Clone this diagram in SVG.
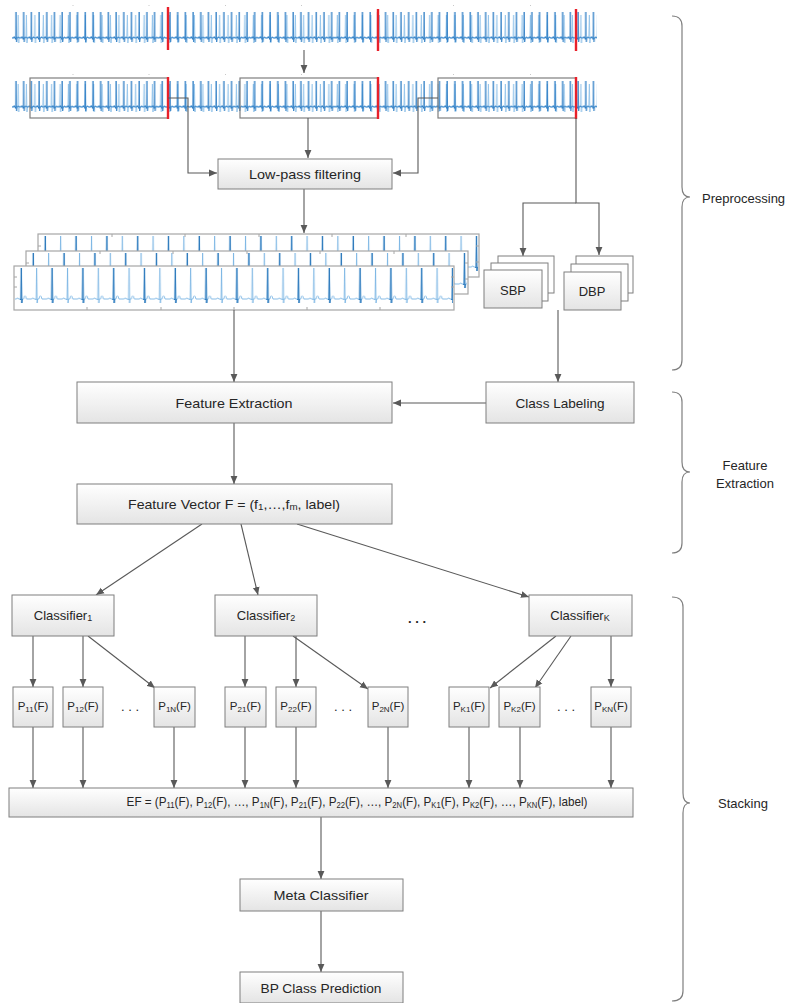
<svg xmlns="http://www.w3.org/2000/svg" width="794" height="1003" viewBox="0 0 794 1003">
<style>
  .box{fill:url(#bg);stroke:#7f7f7f;stroke-width:1}
  .plain{fill:#fff;stroke:#7f7f7f;stroke-width:1}
  .lbl{font-family:"Liberation Sans",Arial,sans-serif;font-size:13px;fill:#262626;text-anchor:middle;dominant-baseline:central}
  .plbl{font-family:"Liberation Sans",Arial,sans-serif;font-size:11.5px;fill:#262626;text-anchor:middle;dominant-baseline:central}
  .side{font-family:"Liberation Sans",Arial,sans-serif;font-size:13px;fill:#262626;dominant-baseline:central}
  .con{fill:none;stroke:#595959;stroke-width:1.1}
  .arr{fill:none;stroke:#595959;stroke-width:1.1;marker-end:url(#ah)}
  .brace{fill:none;stroke:#7f7f7f;stroke-width:1.2}
  .red{stroke:#e8202a;stroke-width:2.4}
  .win{fill:none;stroke:#7f7f7f;stroke-width:1.2}
  .panel{fill:#fff;stroke:#a6a6a6;stroke-width:1.2}
  .tick{stroke:#a6a6a6;stroke-width:1}
</style>
<defs>
  <linearGradient id="bg" x1="0" y1="0" x2="0" y2="1">
    <stop offset="0" stop-color="#ffffff"/>
    <stop offset="1" stop-color="#e4e4e4"/>
  </linearGradient>
  <marker id="ah" markerUnits="userSpaceOnUse" markerWidth="9" markerHeight="8" refX="8" refY="4" orient="auto">
    <path d="M0,0.6 L8,4 L0,7.4 z" fill="#595959"/>
  </marker>
  <pattern id="rawA" patternUnits="userSpaceOnUse" x="12" y="0" width="7.7" height="69">
    <path d="M0,38 H1.6 L2.1,36.5 L2.6,38 H3.2 L3.6,39.5 L4.0,12 L4.5,42 L5.0,38 H5.6 Q6.3,35.5 7,38 H7.7" fill="none" stroke="#1f74c0" stroke-width="0.8"/>
  </pattern>
  <pattern id="rawB" patternUnits="userSpaceOnUse" x="14" y="0" width="8.4" height="69">
    <path d="M0,38 H2 L2.5,36.8 L3,38 H3.6 L4.1,15 L4.6,43 L5.1,38 Q6,35.8 7,38 H8.4" fill="none" stroke="#8cc0e8" stroke-width="0.9"/>
  </pattern>
  <pattern id="filtA" patternUnits="userSpaceOnUse" x="0" y="0" width="15.4" height="44">
    <path d="M0,33 H2.5 Q3.5,30.5 4.5,33 H6.3 L6.8,34 L7.3,2 L7.8,37 L8.3,33 H9.5 Q11,26.5 12.5,33 H15.4" fill="none" stroke="#6badE0" stroke-width="0.8"/>
  </pattern>
  <pattern id="filtB" patternUnits="userSpaceOnUse" x="0" y="0" width="30.8" height="44">
    <path d="M6.3,33 L6.8,34 L7.3,2 L7.8,37 L8.3,33" fill="none" stroke="#1f6fb5" stroke-width="0.8"/>
  </pattern>
</defs>

<!-- raw signals -->
<g id="signal-raw">
  <g fill="#c8c8c8">
    <rect x="72.5" y="5" width="1" height="1"/><rect x="148.5" y="5" width="1" height="1"/><rect x="225" y="5" width="1" height="1"/><rect x="301" y="5" width="1" height="1"/><rect x="453" y="5" width="1" height="1"/><rect x="530" y="5" width="1" height="1"/>
    <rect x="72.5" y="74" width="1" height="1"/><rect x="148.5" y="74" width="1" height="1"/><rect x="225" y="74" width="1" height="1"/><rect x="301" y="74" width="1" height="1"/><rect x="453" y="74" width="1" height="1"/><rect x="530" y="74" width="1" height="1"/>
  </g>
  <rect x="12" y="6" width="585" height="46" fill="url(#rawB)"/>
  <rect x="12" y="6" width="585" height="46" fill="url(#rawA)"/>
  <rect x="12" y="75" width="585" height="46" fill="url(#rawB)"/>
  <rect x="12" y="75" width="585" height="46" fill="url(#rawA)"/>
  <line class="red" x1="168" y1="7" x2="168" y2="50"/>
  <line class="red" x1="378" y1="9" x2="378" y2="51"/>
  <line class="red" x1="576" y1="9" x2="576" y2="51"/>
  <rect class="win" x="30" y="78" width="138" height="40"/>
  <rect class="win" x="240" y="78" width="138" height="40"/>
  <rect class="win" x="438" y="78" width="138" height="40"/>
  <line class="red" x1="168" y1="77" x2="168" y2="119"/>
  <line class="red" x1="378" y1="77" x2="378" y2="119"/>
  <line class="red" x1="576" y1="77" x2="576" y2="119"/>
</g>

<!-- filtered signal panels -->
<g id="signal-filtered">
  <g transform="translate(38,234)">
    <rect class="panel" x="0" y="0" width="441" height="43"/>
    <rect x="1" y="1" width="439" height="41" fill="url(#filtA)"/>
    <rect x="1" y="1" width="439" height="41" fill="url(#filtB)"/>
    <line class="tick" x1="0" y1="12" x2="3" y2="12"/>
    <line class="tick" x1="74" y1="0" x2="74" y2="3"/><line class="tick" x1="147" y1="0" x2="147" y2="3"/><line class="tick" x1="221" y1="0" x2="221" y2="3"/><line class="tick" x1="294" y1="0" x2="294" y2="3"/><line class="tick" x1="368" y1="0" x2="368" y2="3"/>
    <line class="tick" x1="441" y1="12" x2="438" y2="12"/><line class="tick" x1="441" y1="28" x2="438" y2="28"/>
  </g>
  <g transform="translate(26,251)">
    <rect class="panel" x="0" y="0" width="442" height="43"/>
    <rect x="1" y="1" width="440" height="41" fill="url(#filtA)"/>
    <rect x="1" y="1" width="440" height="41" fill="url(#filtB)"/>
    <line class="tick" x1="0" y1="12" x2="3" y2="12"/>
    <line class="tick" x1="74" y1="0" x2="74" y2="3"/><line class="tick" x1="147" y1="0" x2="147" y2="3"/><line class="tick" x1="221" y1="0" x2="221" y2="3"/><line class="tick" x1="294" y1="0" x2="294" y2="3"/><line class="tick" x1="368" y1="0" x2="368" y2="3"/>
    <line class="tick" x1="442" y1="12" x2="439" y2="12"/><line class="tick" x1="442" y1="28" x2="439" y2="28"/>
  </g>
  <g transform="translate(14,266)">
    <rect class="panel" x="0" y="0" width="440" height="44"/>
    <rect x="1" y="1" width="438" height="42" fill="url(#filtA)"/>
    <rect x="1" y="1" width="438" height="42" fill="url(#filtB)"/>
    <line class="tick" x1="0" y1="11" x2="3" y2="11"/><line class="tick" x1="0" y1="21" x2="3" y2="21"/>
    <line class="tick" x1="73" y1="44" x2="73" y2="41"/><line class="tick" x1="147" y1="44" x2="147" y2="41"/><line class="tick" x1="220" y1="44" x2="220" y2="41"/><line class="tick" x1="293" y1="44" x2="293" y2="41"/><line class="tick" x1="366" y1="44" x2="366" y2="41"/>
    <line class="tick" x1="440" y1="11" x2="437" y2="11"/><line class="tick" x1="440" y1="21" x2="437" y2="21"/>
  </g>
</g>

<!-- connectors -->
<g id="connectors">
  <path class="arr" d="M304,50 V73"/>
  <path class="arr" d="M168,98 H188 V173 H217"/>
  <path class="arr" d="M308,118 V158"/>
  <path class="arr" d="M438,98 H418 V173 H393"/>
  <path class="arr" d="M576,118 V203 H599 V255"/>
  <path class="arr" d="M576,203 H523 V256"/>
  <path class="arr" d="M304,189 V233"/>
  <path class="arr" d="M234,310 V382"/>
  <path class="arr" d="M558,310 V382"/>
  <path class="arr" d="M486,403 H393"/>
  <path class="arr" d="M234,423 V484"/>
  <path class="arr" d="M202,524 L96,595"/>
  <path class="arr" d="M241,524 L258,595"/>
  <path class="arr" d="M297,524 L529,597"/>
  <path class="arr" d="M33,636 V687"/>
  <path class="arr" d="M83,636 V687"/>
  <path class="arr" d="M88,636 L155,688"/>
  <path class="arr" d="M245,636 V687"/>
  <path class="arr" d="M296,636 V687"/>
  <path class="arr" d="M293,636 L368,689"/>
  <path class="arr" d="M556,636 L490,688"/>
  <path class="arr" d="M571,636 L535,688"/>
  <path class="arr" d="M611,636 V687"/>
  <path class="arr" d="M33,727 V788"/>
  <path class="arr" d="M83,727 V788"/>
  <path class="arr" d="M174,727 V788"/>
  <path class="arr" d="M245,727 V788"/>
  <path class="arr" d="M296,727 V788"/>
  <path class="arr" d="M388,727 V788"/>
  <path class="arr" d="M469,727 V788"/>
  <path class="arr" d="M520,727 V788"/>
  <path class="arr" d="M611,727 V788"/>
  <path class="arr" d="M321,817 V879"/>
  <path class="arr" d="M321,911 V972"/>
</g>

<g id="lowpass">
  <rect class="box" x="218" y="159" width="174" height="30"/>
  <text class="lbl" x="305" y="174" textLength="112" lengthAdjust="spacingAndGlyphs">Low-pass filtering</text>
</g>

<g id="sbp">
  <rect class="plain" x="498" y="256" width="56" height="37"/>
  <rect class="plain" x="491" y="263" width="57" height="38"/>
  <rect class="box" x="484" y="270" width="58" height="38"/>
  <text class="lbl" x="513" y="290" font-size="14">SBP</text>
</g>
<g id="dbp">
  <rect class="plain" x="576" y="256" width="57" height="37"/>
  <rect class="plain" x="571" y="264" width="57" height="37"/>
  <rect class="box" x="564" y="272" width="57" height="38"/>
  <text class="lbl" x="592" y="291" font-size="14">DBP</text>
</g>

<g id="feature-extraction">
  <rect class="box" x="77" y="382" width="315" height="41"/>
  <text class="lbl" x="234" y="403" textLength="117" lengthAdjust="spacingAndGlyphs">Feature Extraction</text>
</g>
<g id="class-labeling">
  <rect class="box" x="486" y="382" width="148" height="41"/>
  <text class="lbl" x="560" y="403" textLength="89" lengthAdjust="spacingAndGlyphs">Class Labeling</text>
</g>
<g id="feature-vector">
  <rect class="box" x="77" y="484" width="315" height="40"/>
  <text class="lbl" x="234" y="504" textLength="212" lengthAdjust="spacingAndGlyphs">Feature Vector F = (f<tspan font-size="9" dy="3">1</tspan><tspan dy="-3">,…,f</tspan><tspan font-size="9" dy="3">m</tspan><tspan dy="-3">, label)</tspan></text>
</g>

<g id="classifier1">
  <rect class="box" x="12" y="595" width="102" height="41"/>
  <text class="lbl" x="63" y="615">Classifier<tspan font-size="9" dy="3">1</tspan></text>
</g>
<g id="classifier2">
  <rect class="box" x="215" y="595" width="102" height="41"/>
  <text class="lbl" x="266" y="615">Classifier<tspan font-size="9" dy="3">2</tspan></text>
</g>
<g id="classifierK">
  <rect class="box" x="529" y="595" width="103" height="41"/>
  <text class="lbl" x="580" y="615">Classifier<tspan font-size="9" dy="3">K</tspan></text>
</g>
<text class="lbl" x="417" y="618" font-size="21" font-weight="bold">. . .</text>

<g id="p11"><rect class="box" x="13" y="687" width="40" height="40"/><text class="plbl" x="33" y="706">P<tspan font-size="8" dy="2.5">11</tspan><tspan dy="-2.5">(F)</tspan></text></g>
<g id="p12"><rect class="box" x="63" y="687" width="40" height="40"/><text class="plbl" x="83" y="706">P<tspan font-size="8" dy="2.5">12</tspan><tspan dy="-2.5">(F)</tspan></text></g>
<text class="lbl" x="130" y="706" font-size="12">. . .</text>
<g id="p1n"><rect class="box" x="154" y="687" width="41" height="40"/><text class="plbl" x="174.5" y="706">P<tspan font-size="8" dy="2.5">1N</tspan><tspan dy="-2.5">(F)</tspan></text></g>
<g id="p21"><rect class="box" x="225" y="687" width="41" height="40"/><text class="plbl" x="245.5" y="706">P<tspan font-size="8" dy="2.5">21</tspan><tspan dy="-2.5">(F)</tspan></text></g>
<g id="p22"><rect class="box" x="276" y="687" width="40" height="40"/><text class="plbl" x="296" y="706">P<tspan font-size="8" dy="2.5">22</tspan><tspan dy="-2.5">(F)</tspan></text></g>
<text class="lbl" x="343" y="706" font-size="12">. . .</text>
<g id="p2n"><rect class="box" x="368" y="687" width="40" height="40"/><text class="plbl" x="388" y="706">P<tspan font-size="8" dy="2.5">2N</tspan><tspan dy="-2.5">(F)</tspan></text></g>
<g id="pk1"><rect class="box" x="449" y="687" width="40" height="40"/><text class="plbl" x="469" y="706">P<tspan font-size="8" dy="2.5">K1</tspan><tspan dy="-2.5">(F)</tspan></text></g>
<g id="pk2"><rect class="box" x="499" y="687" width="41" height="40"/><text class="plbl" x="519.5" y="706">P<tspan font-size="8" dy="2.5">K2</tspan><tspan dy="-2.5">(F)</tspan></text></g>
<text class="lbl" x="566" y="706" font-size="12">. . .</text>
<g id="pkn"><rect class="box" x="591" y="687" width="40" height="40"/><text class="plbl" x="611" y="706">P<tspan font-size="8" dy="2.5">KN</tspan><tspan dy="-2.5">(F)</tspan></text></g>

<g id="ef">
  <rect class="box" x="9" y="788" width="624" height="29"/>
  <text class="lbl" font-size="12.5" transform="translate(357,802) scale(0.9,1)" x="0" y="0">EF = (P<tspan font-size="8.5" dy="2.5">11</tspan><tspan dy="-2.5">(F), P</tspan><tspan font-size="8.5" dy="2.5">12</tspan><tspan dy="-2.5">(F), …, P</tspan><tspan font-size="8.5" dy="2.5">1N</tspan><tspan dy="-2.5">(F), P</tspan><tspan font-size="8.5" dy="2.5">21</tspan><tspan dy="-2.5">(F), P</tspan><tspan font-size="8.5" dy="2.5">22</tspan><tspan dy="-2.5">(F), …, P</tspan><tspan font-size="8.5" dy="2.5">2N</tspan><tspan dy="-2.5">(F), P</tspan><tspan font-size="8.5" dy="2.5">K1</tspan><tspan dy="-2.5">(F), P</tspan><tspan font-size="8.5" dy="2.5">K2</tspan><tspan dy="-2.5">(F), …, P</tspan><tspan font-size="8.5" dy="2.5">KN</tspan><tspan dy="-2.5">(F), label)</tspan></text>
</g>

<g id="meta-classifier">
  <rect class="box" x="240" y="879" width="163" height="32"/>
  <text class="lbl" x="321" y="895" textLength="95" lengthAdjust="spacingAndGlyphs">Meta Classifier</text>
</g>
<g id="bp-prediction">
  <rect class="box" x="240" y="972" width="163" height="31"/>
  <text class="lbl" x="321" y="988" textLength="121" lengthAdjust="spacingAndGlyphs">BP Class Prediction</text>
</g>

<g id="braces">
  <path class="brace" d="M672,16 Q682,16 682,26 V187 Q682,197 690,197 Q682,197 682,207 V360 Q682,370 672,370"/>
  <path class="brace" d="M672,392 Q682,392 682,402 V462 Q682,472 690,472 Q682,472 682,482 V543 Q682,553 672,553"/>
  <path class="brace" d="M672,597 Q683,597 683,607 V793 Q683,803 690,803 Q683,803 683,813 V991 Q683,1001 672,1001"/>
  <text class="side" x="702" y="198">Preprocessing</text>
  <text class="side" x="745" y="465" text-anchor="middle">Feature</text>
  <text class="side" x="745" y="483" text-anchor="middle">Extraction</text>
  <text class="side" x="743" y="803" text-anchor="middle">Stacking</text>
</g>
</svg>
